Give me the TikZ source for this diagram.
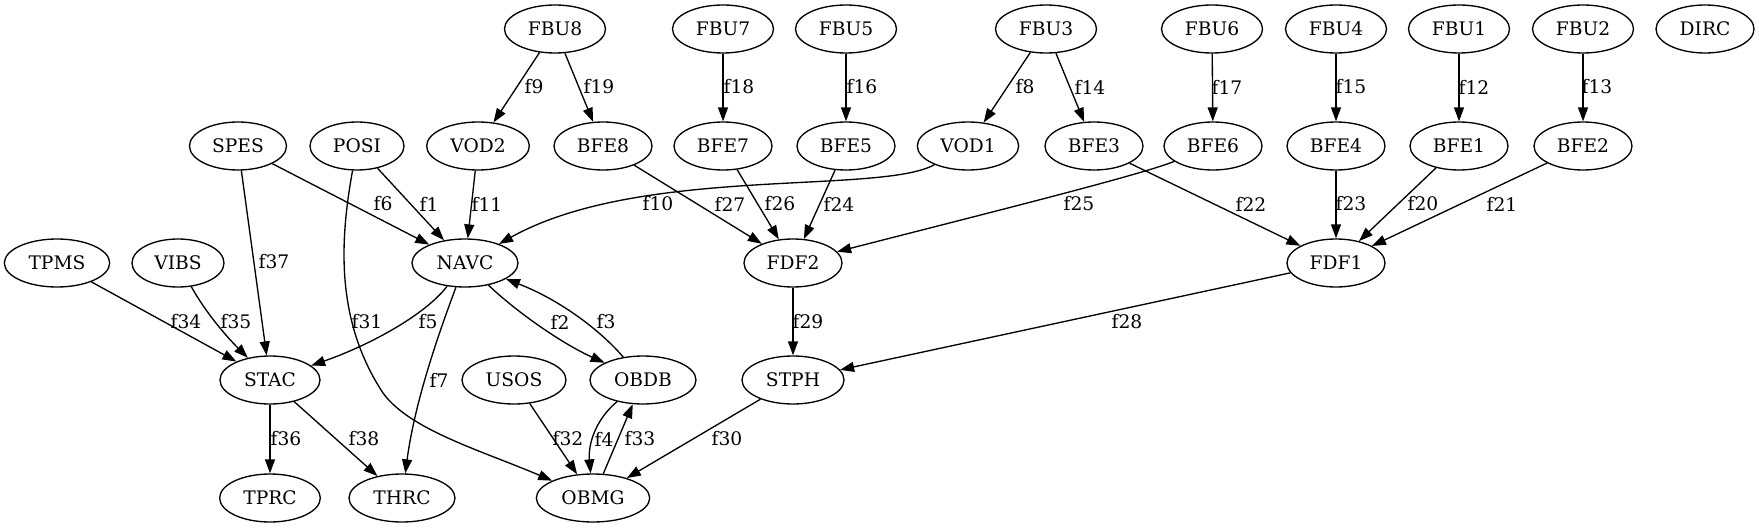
\documentclass[tikz,border=0pt]{standalone}
\usepackage{fontspec}
\setmainfont{DejaVu Serif}
\usetikzlibrary{shapes.geometric,arrows.meta}
\tikzset{
  nd/.style={ellipse,draw,line width=1pt,minimum height=36pt,inner sep=0pt,minimum width=#1,font=\fontsize{14}{16}\selectfont},
  nd/.default=75pt,
  edg/.style={draw,line width=1pt,-{Triangle[length=10.5pt,width=7.5pt]}},
  lbl/.style={inner sep=0pt,font=\fontsize{14}{16}\selectfont}
}
\begin{document}
\begin{tikzpicture}[x=0.75pt,y=-0.75pt]
\useasboundingbox (0,0) rectangle (1759,528);
% row 1
\node[nd=75.75pt] (FBU8) at (555,29) {FBU8};
\node[nd=75.75pt] (FBU7) at (723,29) {FBU7};
\node[nd=75.75pt] (FBU5) at (846,29) {FBU5};
\node[nd=75.75pt] (FBU3) at (1046,29) {FBU3};
\node[nd=75.75pt] (FBU6) at (1212,29) {FBU6};
\node[nd=75.75pt] (FBU4) at (1336,29) {FBU4};
\node[nd=75.75pt] (FBU1) at (1459,29) {FBU1};
\node[nd=75.75pt] (FBU2) at (1583,29) {FBU2};
\node[nd=73.5pt] (DIRC) at (1705,29) {DIRC};
% row 2
\node[nd=72.75pt] (SPES) at (238,146) {SPES};
\node[nd=70.5pt] (POSI) at (357,146) {POSI};
\node[nd=77pt] (VOD2) at (478,146) {VOD2};
\node[nd=73.5pt] (BFE8) at (603,146) {BFE8};
\node[nd=73.5pt] (BFE7) at (723,146) {BFE7};
\node[nd=73.5pt] (BFE5) at (846,146) {BFE5};
\node[nd=76pt] (VOD1) at (968,146) {VOD1};
\node[nd=73.5pt] (BFE3) at (1094,146) {BFE3};
\node[nd=73.5pt] (BFE6) at (1213,146) {BFE6};
\node[nd=73.5pt] (BFE4) at (1336,146) {BFE4};
\node[nd=73.5pt] (BFE1) at (1459,146) {BFE1};
\node[nd=73.5pt] (BFE2) at (1583,146) {BFE2};
% row 3
\node[nd=79pt] (TPMS) at (57,263) {TPMS};
\node[nd=69pt] (VIBS) at (178,263) {VIBS};
\node[nd=79.5pt] (NAVC) at (465,263) {NAVC};
\node[nd=73.5pt] (FDF2) at (793,263) {FDF2};
\node[nd=73.5pt] (FDF1) at (1336,263) {FDF1};
% row 4
\node[nd=75pt] (STAC) at (270,380) {STAC};
\node[nd=78pt] (USOS) at (514,380) {USOS};
\node[nd=79.5pt] (OBDB) at (643,380) {OBDB};
\node[nd=76.5pt] (STPH) at (793,380) {STPH};
% row 5
\node[nd=75.5pt] (TPRC) at (270,498) {TPRC};
\node[nd=79.5pt] (THRC) at (402,498) {THRC};
\node[nd=85pt] (OBMG) at (593,498) {OBMG};
\coordinate (c31) at (383,393);
% edges
\draw[edg] (POSI) -- (NAVC);
\draw[edg] (NAVC) .. controls (520,315) and (565,345) .. (OBDB);
\draw[edg] (OBDB) .. controls (600,330) and (560,300) .. (NAVC);
\draw[edg] (OBDB) .. controls (595,420) and (588,445) .. (OBMG);
\draw[edg] (NAVC) .. controls (425,315) and (370,345) .. (STAC);
\draw[edg] (SPES) -- (NAVC);
\draw[edg] (NAVC) .. controls (440,330) and (415,400) .. (THRC);
\draw[edg] (FBU3) -- (VOD1);
\draw[edg] (FBU8) -- (VOD2);
\draw[edg] (VOD1) .. controls (880,195) and (640,165) .. (NAVC);
\draw[edg] (VOD2) -- (NAVC);
\draw[edg] (FBU1) -- (BFE1);
\draw[edg] (FBU2) -- (BFE2);
\draw[edg] (FBU3) -- (BFE3);
\draw[edg] (FBU4) -- (BFE4);
\draw[edg] (FBU5) -- (BFE5);
\draw[edg] (FBU6) -- (BFE6);
\draw[edg] (FBU7) -- (BFE7);
\draw[edg] (FBU8) -- (BFE8);
\draw[edg] (BFE1) -- (FDF1);
\draw[edg] (BFE2) -- (FDF1);
\draw[edg] (BFE3) -- (FDF1);
\draw[edg] (BFE4) -- (FDF1);
\draw[edg] (BFE5) -- (FDF2);
\draw[edg] (BFE6) .. controls (1140,175) and (1000,210) .. (FDF2);
\draw[edg] (BFE7) -- (FDF2);
\draw[edg] (BFE8) -- (FDF2);
\draw[edg] (FDF1) -- (STPH);
\draw[edg] (FDF2) -- (STPH);
\draw[edg] (STPH) -- (OBMG);
\draw[edg] (POSI) .. controls (340,240) and (335,320) .. (c31) .. controls (410,430) and (480,450) .. (OBMG);
\draw[edg] (USOS) -- (OBMG);
\draw[edg] (OBMG) -- (OBDB);
\draw[edg] (TPMS) -- (STAC);
\draw[edg] (VIBS) .. controls (210,320) and (235,345) .. (STAC);
\draw[edg] (STAC) -- (TPRC);
\draw[edg] (SPES) -- (STAC);
\draw[edg] (STAC) -- (THRC);
% labels
\node[lbl] (l9) at (534,87) {f9};
\node[lbl] (l19) at (599,87) {f19};
\node[lbl] (l18) at (739,87) {f18};
\node[lbl] (l16) at (862,87) {f16};
\node[lbl] (l8) at (1025,87) {f8};
\node[lbl] (l14) at (1090,87) {f14};
\node[lbl] (l17) at (1227,87) {f17};
\node[lbl] (l15) at (1351,87) {f15};
\node[lbl] (l12) at (1474,87) {f12};
\node[lbl] (l13) at (1597,87) {f13};
\node[lbl] (l6) at (383,204) {f6};
\node[lbl] (l1) at (429,204) {f1};
\node[lbl] (l11) at (487,204) {f11};
\node[lbl] (l10) at (658,204) {f10};
\node[lbl] (l27) at (730,204) {f27};
\node[lbl] (l26) at (780,204) {f26};
\node[lbl] (l24) at (839,204) {f24};
\node[lbl] (l25) at (1079,204) {f25};
\node[lbl] (l22) at (1251,204) {f22};
\node[lbl] (l23) at (1351,204) {f23};
\node[lbl] (l20) at (1423,204) {f20};
\node[lbl] (l21) at (1502,204) {f21};
\node[lbl] (l37) at (274,262) {f37};
\node[lbl] (l34) at (186,322) {f34};
\node[lbl] (l35) at (236,322) {f35};
\node[lbl] (l31) at (367,322) {f31};
\node[lbl] (l5) at (428,322) {f5};
\node[lbl] (l2) at (560,322) {f2};
\node[lbl] (l3) at (606,322) {f3};
\node[lbl] (l29) at (808,322) {f29};
\node[lbl] (l28) at (1127,322) {f28};
\node[lbl] (l7) at (439,380) {f7};
\node[lbl] (l36) at (286,439) {f36};
\node[lbl] (l38) at (364,439) {f38};
\node[lbl] (l32) at (568,439) {f32};
\node[lbl] (l4) at (604,439) {f4};
\node[lbl] (l33) at (640,439) {f33};
\node[lbl] (l30) at (727,439) {f30};
\end{tikzpicture}
\end{document}
